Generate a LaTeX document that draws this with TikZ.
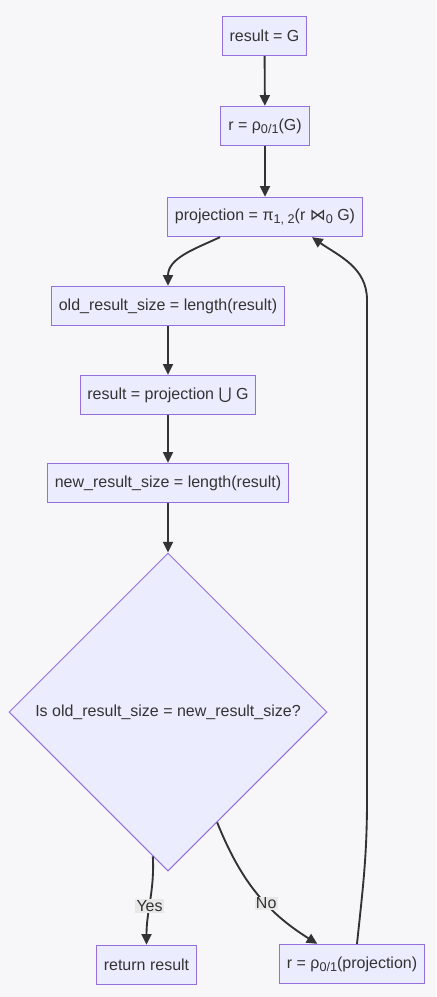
\documentclass[tikz,border=0pt]{standalone}
\usepackage{fontspec}
\setmainfont{Liberation Sans}
\newfontfamily\dvsym{DejaVu Sans}
\usepackage{xcolor}
\usetikzlibrary{shapes.geometric, arrows.meta, positioning}
\definecolor{mmfill}{RGB}{236, 236, 255}
\definecolor{mmborder}{RGB}{147, 112, 219}
\definecolor{mmline}{RGB}{51, 51, 51}
\definecolor{mmlabel}{RGB}{232, 232, 232}
\definecolor{mmbg}{RGB}{247, 247, 249}
\newcommand{\lowsub}[1]{\raisebox{-0.4ex}{\fontsize{9.5}{10}\selectfont #1}}

\begin{document}
\begin{tikzpicture}[
    x=0.75pt, y=0.75pt,
    stepbox/.style={draw=mmborder, fill=mmfill, line width=0.75pt, minimum height=29.5pt, inner xsep=5.5pt, text=mmline, font=\fontsize{12}{14}\selectfont},
    decision/.style={diamond, draw=mmborder, fill=mmfill, line width=0.75pt, aspect=1, inner sep=0pt, minimum width=238.5pt, minimum height=238.5pt, text=mmline, font=\fontsize{12}{14}\selectfont},
    arrow/.style={-{Triangle[length=8pt, width=7.5pt]}, line width=1.4pt, mmline},
    edgelabel/.style={fill=mmlabel, inner sep=1pt, text=mmline, font=\fontsize{12}{14}\selectfont}
]
    \fill[mmbg] (0,0) rectangle (436,-997);
    \useasboundingbox (0,0) rectangle (436,-997);

    % Steps
    \node[stepbox] (start) at (264.5,-36) {result = G};
    \node[stepbox] (rho) at (265,-126) {r = ρ\lowsub{0/1}(G)};
    \node[stepbox] (proj) at (265,-217) {projection = π\lowsub{1, 2}(r {\dvsym ⋈}\lowsub{0} G)};
    \node[stepbox] (oldsize) at (168,-306) {old\_result\_size = length(result)};
    \node[stepbox] (union) at (168,-395) {result = projection {\dvsym ⋃} G};
    \node[stepbox] (newsize) at (168,-483) {new\_result\_size = length(result)};

    % Check
    \node[decision] (check) at (168,-712) {Is old\_result\_size = new\_result\_size?};

    % Ends
    \node[stepbox] (ret) at (146.5,-965) {return result};
    \node[stepbox] (rhoproj) at (352,-964) {r = ρ\lowsub{0/1}(projection)};
    \coordinate (loopfoot) at (367,-800);
    \coordinate (loophead) at (367,-300);

    % Arrows
    \draw[arrow] (start) -- (rho);
    \draw[arrow] (rho) -- (proj);
    \draw[arrow] ([xshift=-33.75pt]proj.south) to[out=-155, in=90] (oldsize.north);
    \draw[arrow] (oldsize) -- (union);
    \draw[arrow] (union) -- (newsize);
    \draw[arrow] (newsize) -- (check.north);
    \draw[arrow] (check.-96) to[out=-87, in=90] node[edgelabel, pos=0.57] {Yes} (ret.north);
    \draw[arrow] (check.-66) to[out=-68, in=148] node[edgelabel, pos=0.6] {No} ([xshift=-26pt]rhoproj.north);
    \draw[arrow] ([xshift=3.75pt]rhoproj.north) to[out=84, in=-90] (loopfoot) -- (loophead) to[out=90, in=-35] ([xshift=35.25pt]proj.south);

\end{tikzpicture}
\end{document}
